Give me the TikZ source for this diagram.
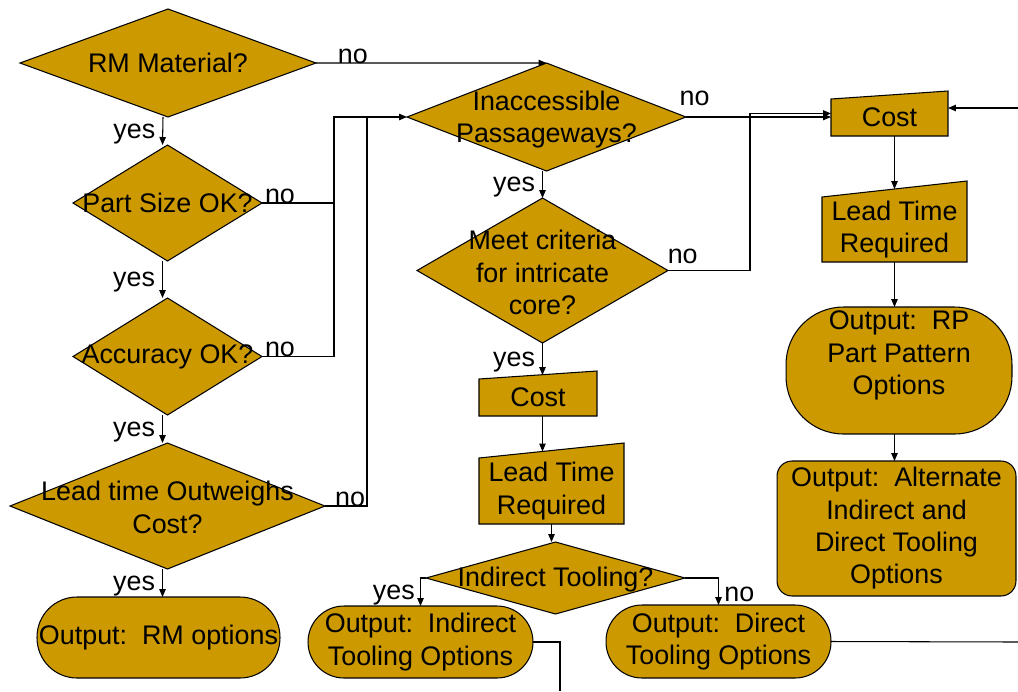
\documentclass[tikz,border=0pt]{standalone}
\usepackage{fontspec}
\setmainfont{Liberation Sans}
\usepackage{xcolor}
\usetikzlibrary{shapes.geometric,arrows.meta,backgrounds}
\definecolor{gold}{RGB}{204,153,0}

\begin{document}
\begin{tikzpicture}[
    x=0.02cm, y=-0.02cm,
    font=\fontsize{15.3pt}{18.4pt}\selectfont,
    decision/.style={diamond, draw=black, fill=gold, inner sep=0pt, outer sep=0pt, line width=0.6pt},
    manual/.style={rectangle, inner sep=0pt, outer sep=0pt, align=center},
    output/.style={rectangle, draw=black, fill=gold, inner sep=1pt, outer sep=0pt, align=center, line width=0.6pt},
    arrow/.style={-{Triangle[length=1.6mm,width=1.3mm]}, line width=0.6pt},
    line/.style={line width=0.6pt},
    lab/.style={inner sep=1pt, yshift=-0.06cm}
]
\useasboundingbox (0,0) rectangle (1018,691);

% Left column
\node[decision, minimum width=5.92cm, minimum height=2.16cm, label={center:RM Material?}] (rm) at (168,63) {};
\node[decision, minimum width=3.78cm, minimum height=2.32cm, label={center:Part Size OK?}] (size) at (167.5,203) {};
\node[decision, minimum width=3.78cm, minimum height=2.34cm, label={center:Accuracy OK?}] (acc) at (167.5,356.5) {};
\node[decision, minimum width=6.3cm, minimum height=2.52cm, label={[align=center, yshift=-0.03cm]center:Lead time Outweighs\\Cost?}] (lead) at (167.5,506) {};
\node[output, minimum width=4.86cm, minimum height=1.62cm, rounded corners=0.8cm] (rmout) at (158.5,637.5) {Output:\ \ RM options};

% Middle column
\node[decision, minimum width=5.58cm, minimum height=2.16cm, label={[align=center, yshift=-0.05cm]center:Inaccessible\\Passageways?}] (pass) at (546.5,117) {};
\node[decision, minimum width=5.02cm, minimum height=2.9cm, label={[align=center, yshift=-0.04cm]center:Meet criteria\\for intricate\\core?}] (core) at (542.5,270.5) {};
\node[manual, minimum width=2.36cm, minimum height=0.74cm] (cost2) at (538,397.5) {Cost};
\node[manual, minimum width=2.9cm, minimum height=1.32cm] (time2) at (551.5,491) {Lead Time\\Required};
\node[decision, minimum width=5.18cm, minimum height=1.44cm, label={[yshift=-0.04cm]center:Indirect Tooling?}] (tool) at (555.5,578) {};
\node[output, minimum width=4.5cm, minimum height=1.44cm, rounded corners=0.72cm] (indout) at (420.5,642) {Output:\ \ Indirect\\Tooling Options};
\node[output, minimum width=4.5cm, minimum height=1.46cm, rounded corners=0.72cm] (dirout) at (718.5,641.5) {Output:\ \ Direct\\Tooling Options};

% Right column
\node[manual, minimum width=2.34cm, minimum height=0.74cm] (cost1) at (889.5,117.5) {Cost};
\node[manual, minimum width=2.9cm, minimum height=1.3cm] (time1) at (894.5,229.5) {Lead Time\\Required};
\node[output, minimum width=4.52cm, minimum height=2.54cm, rounded corners=1.15cm, label={[align=center, yshift=0.3cm]center:Output:\ \ RP\\Part Pattern\\Options}] (rpout) at (899,370.5) {};
\node[output, minimum width=4.78cm, minimum height=2.7cm, rounded corners=0.3cm] (altout) at (896.5,528.5) {Output:\ \ Alternate\\Indirect and\\Direct Tooling\\Options};

% Manual input outlines
\begin{scope}[on background layer]
\foreach \n/\s in {cost1/0.16cm, time1/0.32cm, cost2/0.16cm, time2/0.3cm}
  \filldraw[fill=gold, draw=black, line width=0.6pt] (\n.south west) -- (\n.north west) -- ([yshift=\s]\n.north east) -- (\n.south east) -- cycle;
\end{scope}

% Free ends
\coordinate (j1) at (334,117);
\coordinate (j2) at (367,117);
\coordinate (in1) at (1018,108);
\coordinate (out1) at (560,691);
\coordinate (out2) at (1018,642);

% Left arrows
\draw[arrow] ([xshift=-0.1cm]rm.south) -- node[lab, left=3pt] {yes} ([xshift=-0.1cm]size.north);
\draw[arrow] ([xshift=-0.1cm]size.south) -- node[lab, left=3pt] {yes} ([xshift=-0.1cm]acc.north);
\draw[arrow] ([xshift=-0.1cm]acc.south) -- node[lab, left=3pt] {yes} ([xshift=-0.1cm]lead.north);
\draw[arrow] ([xshift=-0.1cm]lead.south) -- node[lab, left=3pt] {yes} ([xshift=-0.1cm]lead.south |- rmout.north);

\draw[arrow] (rm.east) -- node[lab, above, pos=0.16] {no} (pass.north);
\draw[arrow] (size.east) -| node[lab, above, pos=0.125] {no} (j1) -- (pass.west);
\draw[line] (acc.east) -| node[lab, above, pos=0.125] {no} (j1);
\draw[line] (lead.east) -| node[lab, above, pos=0.3] {no} (j2);

% Middle arrows
\draw[arrow] (core.north |- pass.south) -- node[lab, left=3pt] {yes} (core.north);
\draw[arrow] (core.south) -- node[lab, left=3pt] {yes} ([yshift=0.08cm]core.south |- cost2.north);
\draw[arrow] (core.south |- cost2.south) -- ([yshift=0.13cm]core.south |- time2.north);
\draw[arrow] (time2.south) -- (time2.south |- tool.north);
\draw[arrow] (tool.west) -| node[lab, pos=0.75, left=2pt] {yes} (indout.north);
\draw[arrow] (tool.east) -| node[lab, pos=0.75, right=2pt] {no} (dirout.north);
\draw[line] (indout.east) -| (out1);
\draw[line] (dirout.east) -- (out2);

% Right arrows
\draw[arrow] (pass.east) -- node[lab, above=7pt, pos=0.06] {no} (pass.east -| cost1.west);
\draw[arrow] (core.east) -- node[lab, above=4pt, pos=0.18] {no} ++(82,0) |- ([yshift=0.08cm]cost1.west);
\draw[arrow] (in1) -- (in1 -| cost1.east);
\draw[arrow] (time1.north |- cost1.south) -- ([yshift=0.16cm]time1.north);
\draw[arrow] (time1.south) -- (time1.south |- rpout.north);
\draw[arrow] (time1.south |- rpout.south) -- (time1.south |- altout.north);

\end{tikzpicture}
\end{document}
